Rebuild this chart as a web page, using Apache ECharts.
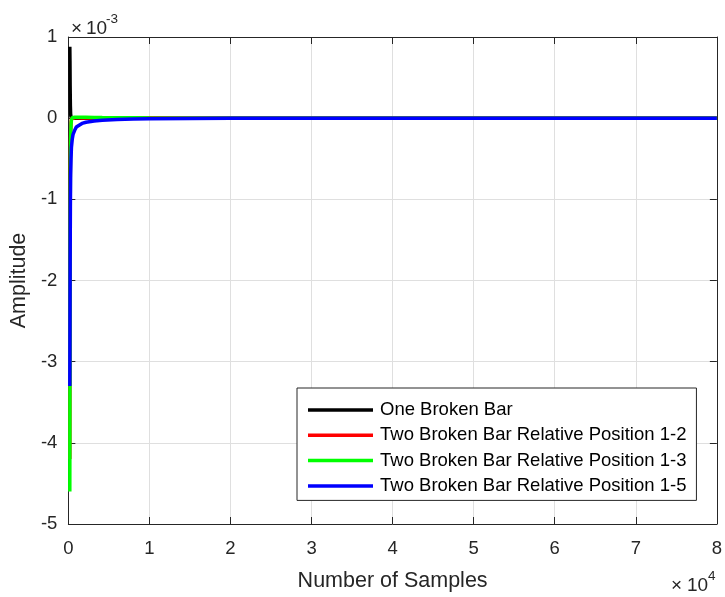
<!DOCTYPE html>
<html>
<head>
<meta charset="utf-8">
<script src="https://cdn.jsdelivr.net/npm/echarts@6/dist/echarts.min.js"></script>
<style>
html,body{margin:0;padding:0;background:#fff;}
#chart{width:725px;height:597px;}
</style>
</head>
<body>
<div id="chart"></div>
<script>
// Sample index (x) shared by all series
var samples = [180, 200, 220, 250, 280, 330, 380, 480, 580, 780, 980, 1180, 1680, 2180, 3180, 4180, 6000, 8000, 10000, 15000, 20000, 30000, 40000, 50000, 60000, 70000, 80000];
// Amplitude values in units of 1e-3
var oneBroken   = [0.88, 0.70, 0.40, 0.15, 0.05, 0.015, 0.005, 0.002, 0, 0, 0, 0, 0, 0, 0, 0, 0, 0, 0, 0, 0, 0, 0, 0, 0, 0, 0];
var twoBroken12 = [-4.2, -2.5, -1.2, -0.45, -0.18, -0.05, -0.01, 0, 0.005, 0.005, 0.004, 0.004, 0.003, 0.003, 0.002, 0.002, 0.001, 0.001, 0.001, 0, 0, 0, 0, 0, 0, 0, 0];
var twoBroken13 = [-4.6, -3.0, -1.5, -0.6, -0.25, -0.08, -0.02, 0.005, 0.01, 0.012, 0.012, 0.012, 0.011, 0.01, 0.008, 0.007, 0.006, 0.004, 0.002, 0, 0, 0, 0, 0, 0, 0, 0];
var twoBroken15 = [-3.3, -2.6, -1.8, -1.1, -0.7, -0.5, -0.36, -0.26, -0.2, -0.15, -0.11, -0.09, -0.065, -0.05, -0.035, -0.025, -0.016, -0.011, -0.007, -0.003, -0.001, 0, 0, 0, 0, 0, 0];
var seriesNames = ['One Broken Bar', 'Two Broken Bar Relative Position 1-2', 'Two Broken Bar Relative Position 1-3', 'Two Broken Bar Relative Position 1-5'];
var seriesColors = ['#000000', '#ff0000', '#00ff00', '#0000ff'];
var xTicks = [0, 1, 2, 3, 4, 5, 6, 7, 8];       // ×10^4
var yTicks = [-5, -4, -3, -2, -1, 0, 1];        // ×10^-3

var FONT = '"Liberation Sans", Arial, Helvetica, sans-serif';
var TXT = '#262626';

function pairs(vals) {
  return samples.map(function (s, i) { return [s, vals[i]]; });
}
var allVals = [oneBroken, twoBroken12, twoBroken13, twoBroken15];

var chart = echarts.init(document.getElementById('chart'), null, {renderer: 'canvas'});

var baseX = {
  type: 'value', min: xTicks[0] * 10000, max: xTicks[xTicks.length - 1] * 10000, interval: 10000,
  axisLine: {show: true, onZero: false, lineStyle: {color: TXT, width: 1}},
  axisTick: {show: true, inside: true, length: 7, lineStyle: {color: TXT}},
};
var baseY = {
  type: 'value', min: yTicks[0], max: yTicks[yTicks.length - 1], interval: 1,
  axisLine: {show: true, onZero: false, lineStyle: {color: TXT, width: 1}},
  axisTick: {show: true, inside: true, length: 7, lineStyle: {color: TXT}},
};

function txt(x, y, s, size) {
  return {type: 'text', left: x, top: y, silent: true, style: {
    text: s, fontSize: size, fontFamily: FONT, fill: TXT
  }};
}

var option = {
  animation: false,
  backgroundColor: '#fff',
  grid: {left: 68, right: 6, top: 37, bottom: 71, containLabel: false},
  xAxis: [
    Object.assign({}, baseX, {
      position: 'bottom',
      name: 'Number of Samples', nameLocation: 'middle', nameGap: 46,
      nameTextStyle: {color: TXT, fontSize: 21.5, fontFamily: FONT},
      axisLabel: {show: true, margin: 15, color: TXT, fontSize: 18.5, fontFamily: FONT,
        formatter: function (v) { return String(Math.round(v / 10000)); }},
      splitLine: {show: true, lineStyle: {color: '#dfdfdf', width: 1}}
    }),
    Object.assign({}, baseX, {
      position: 'top',
      axisLabel: {show: false}, splitLine: {show: false}
    })
  ],
  yAxis: [
    Object.assign({}, baseY, {
      position: 'left',
      name: 'Amplitude', nameLocation: 'middle', nameGap: 26, nameRotate: 90,
      nameTextStyle: {color: TXT, fontSize: 21.5, fontFamily: FONT},
      axisLabel: {show: true, margin: 11, color: TXT, fontSize: 18.5, fontFamily: FONT, padding: [3, 0, 0, 0]},
      splitLine: {show: true, lineStyle: {color: '#dfdfdf', width: 1}}
    }),
    Object.assign({}, baseY, {
      position: 'right',
      axisLabel: {show: false}, splitLine: {show: false}
    })
  ],
  legend: {
    orient: 'vertical', left: 297, top: 388,
    padding: [12.5, 10, 5, 11],
    itemWidth: 65, itemHeight: 3.5, itemGap: 6.3,
    icon: 'rect',
    backgroundColor: '#fff', borderColor: TXT, borderWidth: 1,
    textStyle: {color: '#000', fontSize: 18.5, fontFamily: FONT, lineHeight: 18, padding: [0, 0, 0, 2]},
    data: seriesNames
  },
  series: seriesNames.map(function (n, i) {
    return {
      name: n, type: 'line', xAxisIndex: 0, yAxisIndex: 0,
      data: pairs(allVals[i]),
      showSymbol: false, symbol: 'none',
      color: seriesColors[i],
      lineStyle: {color: seriesColors[i], width: 3.5},
      clip: true
    };
  }),
  graphic: [
    txt(71, 19, '×', 19),
    txt(86, 19, '10', 19),
    txt(106, 12, '-3', 13.5),
    txt(671, 576, '×', 19),
    txt(687, 576, '10', 19),
    txt(708, 569, '4', 13.5)
  ]
};
chart.setOption(option);
</script>
</body>
</html>
